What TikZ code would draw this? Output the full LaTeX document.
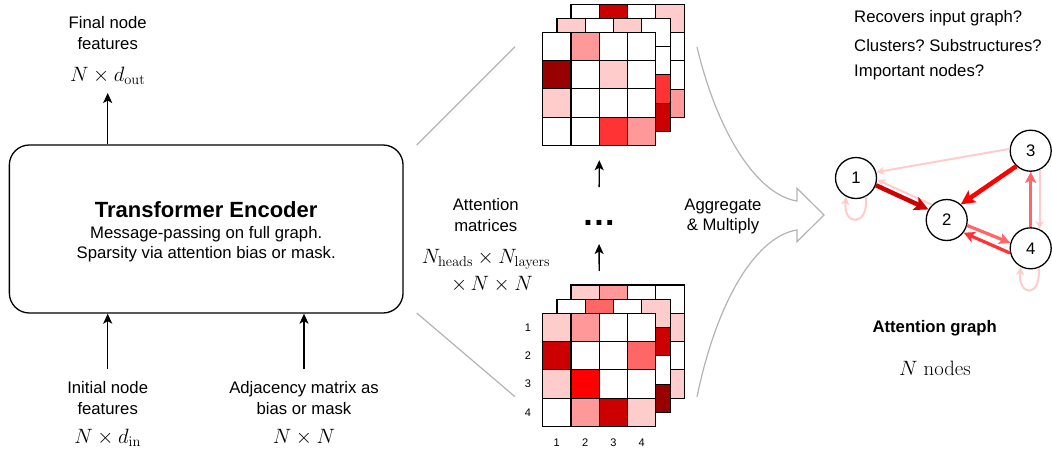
\documentclass[tikz,border=0pt]{standalone}
\usepackage[no-math]{fontspec}
\newfontfamily\arial{Liberation Sans}
\usetikzlibrary{arrows.meta,calc}
\frenchspacing
\definecolor{cL}{HTML}{FFCCCC}
\definecolor{cM}{HTML}{FF9999}
\definecolor{cF}{HTML}{FF6666}
\definecolor{cT}{HTML}{FF3333}
\definecolor{cR}{HTML}{FF0000}
\definecolor{cC}{HTML}{CC0000}
\definecolor{cD}{HTML}{990000}
\definecolor{cW}{HTML}{FFFFFF}
\definecolor{gry}{HTML}{B3B3B3}
\newcommand\matlayer[3]{%
  \foreach \cc [count=\ii from 0] in {#3} {%
    \pgfmathtruncatemacro\rr{div(\ii,4)}%
    \pgfmathtruncatemacro\kk{mod(\ii,4)}%
    \filldraw[fill=\cc, draw=black, line width=1.1pt] ({#1+\kk*28.3},{#2+\rr*28.3}) rectangle ++(28.3,28.3);
  }%
}
\begin{document}
\frenchspacing
\begin{tikzpicture}[x=1pt,y=-1pt,
  txt/.style={font=\arial\fontsize{16.7}{20.8}\selectfont\frenchspacing, inner sep=0pt, align=center},
  ttl/.style={font=\arial\fontsize{22}{26}\selectfont\bfseries, inner sep=0pt},
  mth/.style={font=\fontsize{20}{24}\selectfont, inner sep=0pt},
  small/.style={font=\arial\fontsize{11}{13}\selectfont, inner sep=0pt},
  blk/.style={line width=1.3pt, -{Stealth[length=10pt,width=9pt,inset=2.5pt]}},
  gline/.style={draw=gry, line width=1.2pt},
  gnode/.style={circle, draw, fill=white, line width=1.3pt, minimum size=41pt, inner sep=0pt, font=\arial\fontsize{16.7}{20}\selectfont},
  ebig/.style={line width=4.5pt, -{Stealth[length=14pt,width=14pt,inset=3pt]}},
  emid/.style={line width=3.2pt, -{Stealth[length=11pt,width=11pt,inset=2.5pt]}},
  epale/.style={draw=cL, line width=2pt, -{Stealth[length=8pt,width=8pt,inset=2pt]}}
]
\useasboundingbox (0,0) rectangle (1052,448);

% ---------- encoder ----------
\node[draw, rounded corners=20pt, line width=1.3pt, minimum width=393.7pt, minimum height=168pt, inner sep=0pt] (enc) at (206.2,229) {};
\node[ttl, anchor=base] (encT) at (206.2,217) {Transformer Encoder};
\node[txt, anchor=base] (encA) at (206.2,238.5) {Message-passing on full graph.};
\node[txt, anchor=base] (encB) at (206.2,258.5) {Sparsity via attention bias or mask.};

\node[txt, anchor=base] (fin) at (107.7,49.3) {Final node\\features};
\node[mth, anchor=base] (fout) at (107.7,81) {$N\times d_{\mathrm{out}}$};
\node[txt, anchor=base] (ini) at (107.7,414) {Initial node\\features};
\node[mth, anchor=base] (fin2) at (107.7,443.5) {$N\times d_{\mathrm{in}}$};
\node[txt, anchor=base] (adj) at (304,414) {Adjacency matrix as\\bias or mask};
\node[mth, anchor=base] (fadj) at (304,443.5) {$N\times N$};

\coordinate (outtip) at (107.7,93);
\coordinate (intail) at (107.7,369);
\coordinate (adjtail) at (304,369);
\draw[blk] (enc.north -| outtip) -- (outtip);
\draw[blk] (intail) -- (enc.south -| intail);
\draw[blk] (adjtail) -- (enc.south -| adjtail);

% ---------- zoom lines ----------
\coordinate (z1) at (416.7,145);
\coordinate (z2) at (515,46.7);
\coordinate (z3) at (416.7,313);
\coordinate (z4) at (515,396.7);
\draw[gline] (z1) -- (z2);
\draw[gline] (z3) -- (z4);

% ---------- matrices ----------
\matlayer{571}{4.3}{cW,cC,cW,cL, cW,cW,cW,cW, cW,cW,cW,cW, cW,cW,cW,cM}
\matlayer{557}{18.3}{cL,cW,cL,cW, cW,cW,cW,cW, cW,cW,cW,cT, cW,cW,cW,cC}
\matlayer{542.7}{32.3}{cW,cM,cW,cW, cD,cW,cL,cW, cL,cW,cW,cW, cW,cW,cT,cM}
\node[minimum size=113.2pt, inner sep=0pt] (topM) at (599.3,88.9) {};

\matlayer{571}{285}{cL,cM,cW,cW, cW,cW,cW,cL, cW,cW,cW,cW, cW,cW,cW,cL}
\matlayer{557}{299.3}{cW,cF,cW,cL, cW,cW,cW,cC, cW,cW,cW,cW, cW,cW,cW,cD}
\matlayer{542.7}{313.3}{cL,cM,cW,cW, cC,cW,cW,cF, cL,cR,cW,cW, cW,cM,cC,cL}
\node[minimum size=113.2pt, inner sep=0pt] (botM) at (599.3,369.9) {};

\node[small] (r1) at (528,327.5) {1};
\node[small] (r2) at (528,355.8) {2};
\node[small] (r3) at (528,384.1) {3};
\node[small] (r4) at (528,412.4) {4};
\node[small] (c1) at (556.8,442.7) {1};
\node[small] (c2) at (585.1,442.7) {2};
\node[small] (c3) at (613.4,442.7) {3};
\node[small] (c4) at (641.7,442.7) {4};

\node[font=\arial\fontsize{34}{34}\selectfont\bfseries, inner sep=0pt] (dots) at (599,222.5) {.\kern1.5pt.\kern1.5pt.};
\coordinate (dc) at (599,220);
\draw[blk, shorten >=14.5pt, shorten <=33pt] (dc) -- (topM.south);
\draw[blk, shorten <=42.3pt, shorten >=24pt] (botM.north) -- (dc);

\node[txt] (attm) at (485.8,214.8) {Attention\\matrices};
\node[mth, anchor=base] (attd1) at (486,263.3) {$N_{\mathrm{heads}}\times N_{\mathrm{layers}}$};
\node[mth, anchor=base] (attd2) at (492,290) {$\times\, N\times N$};

\node[txt] (agg) at (723,216.5) {Aggregate\\\& Multiply};

% ---------- big hollow arrow ----------
\draw[gline, line join=miter] (697,47) .. controls (718,135) and (758,195) .. (797,201)
  -- (797,188.3) -- (824,215) -- (797,241.7) -- (797,230)
  .. controls (758,236) and (718,296) .. (697,396.7);

% ---------- attention graph ----------
\node[txt, anchor=west] (q1) at (854,18.5) {Recovers input graph?};
\node[txt, anchor=west] (q2) at (854,45.5) {Clusters? Substructures?};
\node[txt, anchor=west] (q3) at (854,72.5) {Important nodes?};

\node[gnode] (g1) at (856,178) {1};
\node[gnode] (g2) at (946.7,220) {2};
\node[gnode] (g3) at (1030.7,150.7) {3};
\node[gnode] (g4) at (1030.7,248.3) {4};

\draw[epale] (g3.175) -- (g1.16);
\draw[epale] (g2.134.5) -- (g1.-5);
\draw[epale] (g3.-65) -- (g4.65);
\draw[epale] (g1.-62) .. controls +(3,30) and +(-3,30) .. (g1.-118);
\draw[epale] (g4.-68) .. controls +(3,30) and +(-3,30) .. (g4.-118);
\draw[ebig, color=cC] (g1.-20) -- (g2.150);
\draw[ebig, color=cR] (g3.227) -- (g2.48);
\draw[emid, color=cF] (g2.-15) -- (g4.165);
\draw[emid, color=cT] (g4.193) -- (g2.-37);
\draw[emid, color=cF] (g4.90) -- (g3.-90);

\node[txt, font=\arial\fontsize{16.7}{20}\selectfont\bfseries, anchor=base] (agt) at (934.7,332.3) {Attention graph};
\node[mth, anchor=base] (nn) at (935,375) {$N\ \mathrm{nodes}$};
\end{tikzpicture}
\end{document}
